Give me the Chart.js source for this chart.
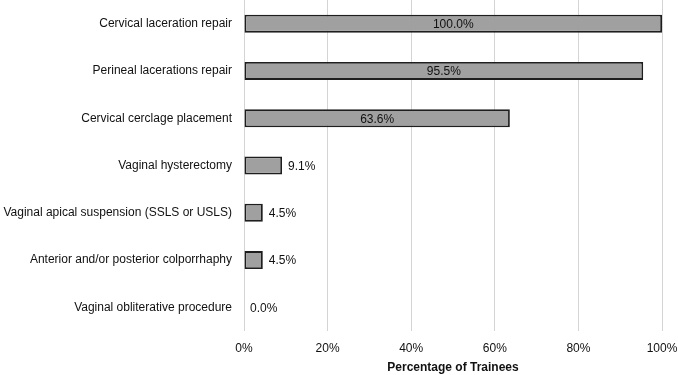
<!DOCTYPE html>
<html>
<head>
<meta charset="utf-8">
<script src="https://cdn.jsdelivr.net/npm/chart.js@4/dist/chart.umd.min.js"></script>
<style>
html,body{margin:0;padding:0;background:#fff;}
#wrap{width:678px;height:375px;}
</style>
</head>
<body>
<div id="wrap"><canvas id="c" width="678" height="375"></canvas></div>
<script>
const categories = [
  "Cervical laceration repair",
  "Perineal lacerations repair",
  "Cervical cerclage placement",
  "Vaginal hysterectomy",
  "Vaginal apical suspension (SSLS or USLS)",
  "Anterior and/or posterior colporrhaphy",
  "Vaginal obliterative procedure"
];
const values = [100.0, 95.5, 63.6, 9.1, 4.5, 4.5, 0.0];
const xTicks = [0, 20, 40, 60, 80, 100];

const FONT = "'Liberation Sans', Arial, sans-serif";

const labelPlugin = {
  id: 'valueLabels',
  afterDatasetsDraw(chart) {
    const ctx = chart.ctx;
    const meta = chart.getDatasetMeta(0);
    ctx.save();
    ctx.font = "12px " + FONT;
    ctx.fillStyle = "#111";
    ctx.textBaseline = "middle";
    meta.data.forEach((bar, i) => {
      const v = values[i];
      const txt = v.toFixed(1) + "%";
      if (v >= 30) {
        ctx.textAlign = "center";
        ctx.fillText(txt, (bar.base + bar.x) / 2, bar.y + 1);
      } else {
        ctx.textAlign = "left";
        ctx.fillText(txt, bar.x + 6, bar.y + 1);
      }
    });
    ctx.restore();
  }
};

new Chart(document.getElementById('c'), {
  type: 'bar',
  data: {
    labels: categories,
    datasets: [{
      data: values,
      backgroundColor: '#a0a0a0',
      borderColor: '#1e1e1e',
      borderWidth: 1.8,
      borderSkipped: false,
      barPercentage: 0.76,
      categoryPercentage: 0.5
    }]
  },
  options: {
    indexAxis: 'y',
    responsive: false,
    animation: false,
    layout: { padding: { top: 0, right: 16, bottom: 0, left: 0 } },
    plugins: { legend: { display: false }, tooltip: { enabled: false } },
    scales: {
      x: {
        min: 0, max: 100,
        afterBuildTicks(scale) { scale.ticks = xTicks.map(v => ({ value: v })); },
        afterFit(scale) {
          scale.height = 44;
          scale.paddingLeft = 0;
          scale.paddingRight = 0;
        },
        grid: { color: '#d4d4d4', lineWidth: 1, drawTicks: false },
        border: { display: false },
        ticks: {
          padding: 10,
          color: '#111',
          font: { family: FONT, size: 12 },
          callback: v => v + '%'
        },
        title: {
          display: true,
          text: 'Percentage of Trainees',
          color: '#111',
          font: { family: FONT, size: 12, weight: 'bold' },
          padding: { top: 4, bottom: 0 }
        }
      },
      y: {
        grid: { display: false, drawTicks: false },
        border: { display: false },
        afterFit(scale) {
          scale.width = 244;
          scale.paddingTop = 0;
          scale.paddingBottom = 0;
        },
        ticks: {
          padding: 12,
          color: '#111',
          font: { family: FONT, size: 12 }
        }
      }
    }
  },
  plugins: [labelPlugin]
});
</script>
</body>
</html>
